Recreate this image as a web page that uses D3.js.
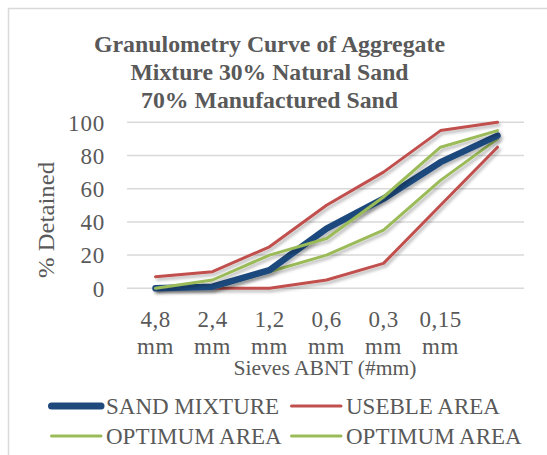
<!DOCTYPE html>
<html><head><meta charset="utf-8">
<script src="https://cdn.jsdelivr.net/npm/d3@7"></script>
<style>body{margin:0;background:#fff}</style>
</head><body>
<svg id="c" width="547" height="455"></svg>
<script>
const categories = ["4,8 mm","2,4 mm","1,2 mm","0,6 mm","0,3 mm","0,15 mm",""];
const sandMixture = [0, 1, 11, 36, 54, 76, 92];
const usebleUpper = [7, 10, 25, 50, 70, 95, 100];
const usebleLower = [0, 0, 0, 5, 15, 50, 85];
const optimumUpper = [0, 5, 20, 30, 55, 85, 95];
const optimumLower = [0, 0, 10, 20, 35, 65, 90];
const yTicks = [0, 20, 40, 60, 80, 100];
const titleLines = ["Granulometry Curve of Aggregate","Mixture 30% Natural Sand","70% Manufactured Sand"];

const svg = d3.select("#c");
const serif = "'Liberation Serif', 'DejaVu Serif', serif";
const gray = "#595959";

// frame
svg.append("path").attr("d","M8.5,455 V8.5 H547").attr("fill","none").attr("stroke","#d9d9d9").attr("stroke-width",1.5);

const defs = svg.append("defs");
const f = defs.append("filter").attr("id","sh").attr("x","-10%").attr("y","-10%").attr("width","130%").attr("height","130%");
f.append("feDropShadow").attr("dx",2).attr("dy",2.5).attr("stdDeviation",1.5).attr("flood-color","#000").attr("flood-opacity",0.28);

const x = d3.scaleBand().domain(d3.range(categories.length)).range([127,526]);
const y = d3.scaleLinear().domain([0,100]).range([288.3,122.3]);

// title
const titleW = [351, 278, 257];
svg.append("g").selectAll("text").data(titleLines).join("text")
  .attr("x",269.5).attr("y",(d,i)=>51.7+i*28).attr("text-anchor","middle")
  .attr("font-family",serif).attr("font-weight","bold").attr("font-size",23)
  .attr("textLength",(d,i)=>titleW[i]).attr("lengthAdjust","spacingAndGlyphs")
  .attr("fill",gray).text(d=>d);

// gridlines
svg.append("g").selectAll("line").data(yTicks).join("line")
  .attr("x1",127).attr("x2",524).attr("y1",d=>y(d)).attr("y2",d=>y(d))
  .attr("stroke","#d9d9d9").attr("stroke-width",1.5);

// y axis labels
const ya = svg.append("g").attr("transform","translate(105,0)").call(d3.axisLeft(y).tickValues(yTicks).tickSize(0).tickPadding(0));
ya.select(".domain").remove();
ya.selectAll("text").attr("font-family",serif).attr("font-size",23).attr("fill",gray).attr("dy","0.34em")
  .attr("letter-spacing",0.8);

// x axis labels
const xa = svg.append("g").attr("transform","translate(0,300)").call(d3.axisBottom(x).tickSize(0).tickPadding(0).tickFormat(()=>""));
xa.select(".domain").remove();
xa.selectAll(".tick text").each(function(d){
  const parts = categories[d].split(" ");
  const t = d3.select(this).attr("font-family",serif).attr("font-size",23).attr("fill",gray).attr("y",0).attr("dy",0)
    .attr("letter-spacing",0.5);
  parts.forEach((p,i)=>{ if(p) t.append("tspan").attr("x",0).attr("y",i===0?27:54).text(p); });
});

// axis titles
svg.append("text").attr("transform","translate(54,220) rotate(-90)").attr("text-anchor","middle")
  .attr("font-family",serif).attr("font-size",23).attr("fill",gray)
  .attr("textLength",116).attr("lengthAdjust","spacingAndGlyphs").text("% Detained");
svg.append("text").attr("x",325).attr("y",375).attr("text-anchor","middle")
  .attr("font-family",serif).attr("font-size",20).attr("fill",gray)
  .attr("textLength",183).attr("lengthAdjust","spacingAndGlyphs").text("Sieves ABNT (#mm)");

const line = d3.line().x((d,i)=>x(i)+x.bandwidth()/2).y(d=>y(d));
const series = [
  {name:"USEBLE AREA", data:usebleLower, color:"#c0504d", w:3},
  {name:"OPTIMUM AREA", data:optimumLower, color:"#9bbb59", w:3},
  {name:"SAND MIXTURE", data:sandMixture, color:"#1f497d", w:6.5},
  {name:"USEBLE AREA", data:usebleUpper, color:"#c0504d", w:3},
  {name:"OPTIMUM AREA", data:optimumUpper, color:"#9bbb59", w:3},
];
svg.append("g").selectAll("path").data(series).join("path")
  .attr("d",d=>line(d.data)).attr("fill","none").attr("stroke",d=>d.color)
  .attr("stroke-width",d=>d.w).attr("stroke-linejoin","round").attr("stroke-linecap","round")
  .attr("filter","url(#sh)");

// legend
const legend = [
  {name:"SAND MIXTURE", color:"#1f497d", w:7, x:50, y:406},
  {name:"USEBLE AREA", color:"#c0504d", w:3, x:290, y:406},
  {name:"OPTIMUM AREA", color:"#9bbb59", w:3, x:50, y:436},
  {name:"OPTIMUM AREA", color:"#9bbb59", w:3, x:290, y:436},
];
const lg = svg.append("g").selectAll("g").data(legend).join("g").attr("transform",d=>`translate(${d.x},${d.y})`);
lg.append("line").attr("x1",1.5).attr("x2",51).attr("stroke",d=>d.color).attr("stroke-width",d=>d.w).attr("stroke-linecap","round");
lg.append("text").attr("x",56).attr("dy","0.34em").attr("font-family",serif).attr("font-size",23)
  .attr("fill",gray).text(d=>d.name);
</script>
</body></html>
